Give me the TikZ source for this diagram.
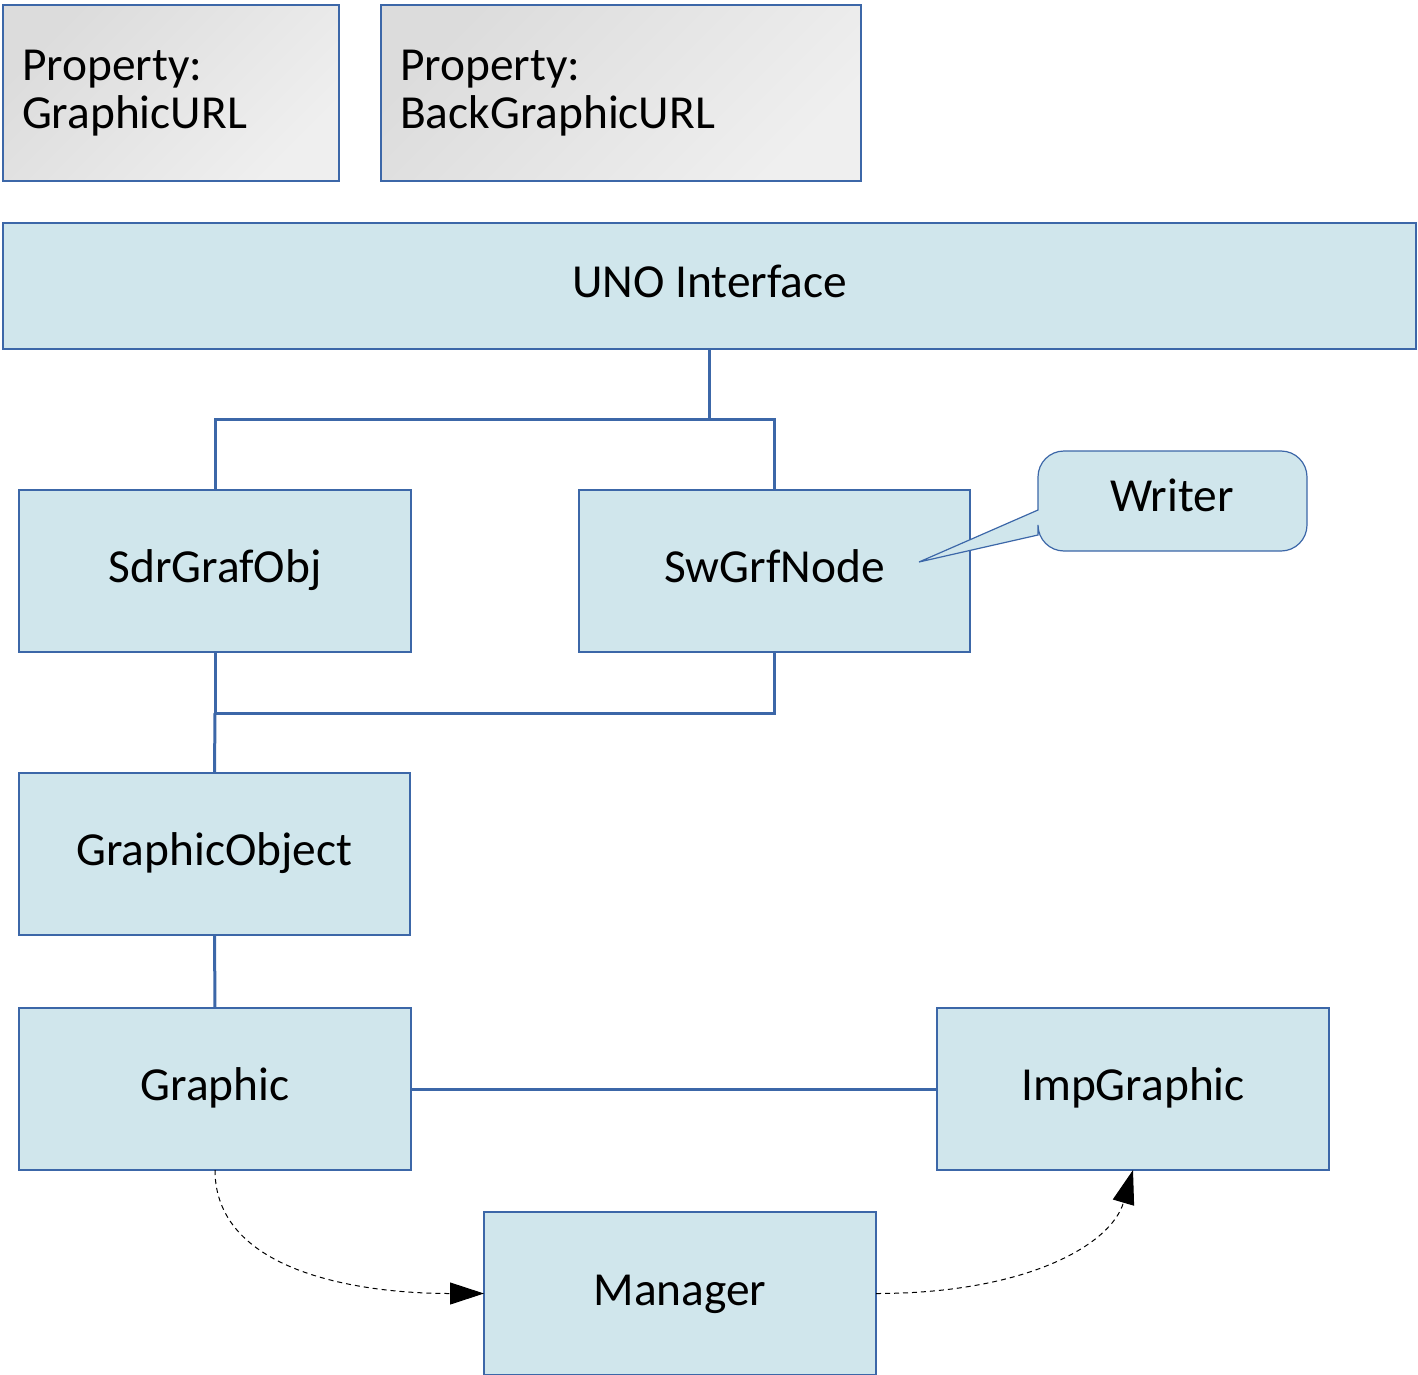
\documentclass[tikz,border=0pt]{standalone}
\usepackage{fontspec}
\setmainfont{Carlito}
\usetikzlibrary{arrows.meta}
\definecolor{edgeblue}{HTML}{3C67A8}
\definecolor{boxfill}{HTML}{D0E6EC}
\definecolor{greydark}{HTML}{DCDCDC}
\definecolor{greylight}{HTML}{EFEFEF}
\tikzset{
  base/.style={inner sep=0pt, outer sep=0pt, draw=edgeblue, line width=0.6pt,
    font=\fontsize{23.7}{24}\selectfont},
  label text/.style={text height=14.3pt, text depth=2.7pt},
  box/.style={base, label text, fill=boxfill, minimum width=196pt, minimum height=81pt},
  propbox/.style={base, shading=axis, top color=greydark, bottom color=greylight,
    shading angle=45, minimum height=88pt, align=left, inner xsep=9.5pt},
  link/.style={draw=edgeblue, line width=1.5pt},
  flow/.style={draw=black, line width=0.5pt, dash pattern=on 2.5pt off 2pt,
    -{Triangle[length=17pt,width=11pt]}},
  callout/.style={draw=edgeblue, line width=0.6pt, fill=boxfill}
}
\begin{document}
\begin{tikzpicture}[x=0.5pt, y=-0.5pt]
\useasboundingbox (0,0) rectangle (1418,1375);

% property boxes
\node[propbox, text width=149pt] (prop1) at (171,93) {Property:\\GraphicURL};
\node[propbox, text width=221pt] (prop2) at (621,93) {Property:\\BackGraphicURL};

% interface bar
\node[box, minimum width=706.5pt, minimum height=63pt] (uno) at (709.5,286) {UNO Interface};

% object boxes
\node[box] (sdr) at (215,571) {SdrGrafObj};
\node[box, minimum width=195.5pt] (swg) at (774.5,571) {SwGrfNode};
\node[box, minimum width=195.5pt] (gobj) at (214.5,854) {GraphicObject};
\node[box] (graphic) at (215,1089) {Graphic};
\node[box] (imp) at (1133,1089) {ImpGraphic};
\node[box, minimum height=81.5pt] (mgr) at (680,1293.5) {Manager};

% callout attached to SwGrfNode
\draw[callout] (1038,510) [rounded corners=13pt] -- (1038,451) -- (1307,451)
  -- (1307,551) -- (1038,551) [sharp corners] -- (1038,535) -- (919,562) -- cycle;
\node[font=\fontsize{23.7}{24}\selectfont, label text, inner sep=0pt] (writer) at (1172,500) {Writer};

% tree connectors
\coordinate (bus1) at (709.5,419);
\coordinate (bus2) at (215,713);
\draw[link] (uno.south) -- (bus1);
\draw[link] (sdr.north) |- (bus1) -| (swg.north);
\draw[link] (sdr.south) -- (bus2) -| (swg.south);
\draw[link] (bus2) -- (gobj.north);
\draw[link] (gobj.south) -- (graphic.north);
\draw[link] (graphic.east) -- (imp.west);

% dashed flows through the manager
\draw[flow] (graphic.south) .. controls +(0,100) and +(-130,0) .. (mgr.west);
\draw[flow] (mgr.east) .. controls +(150,0) and +(-22,75) .. (imp.south);
\end{tikzpicture}
\end{document}
